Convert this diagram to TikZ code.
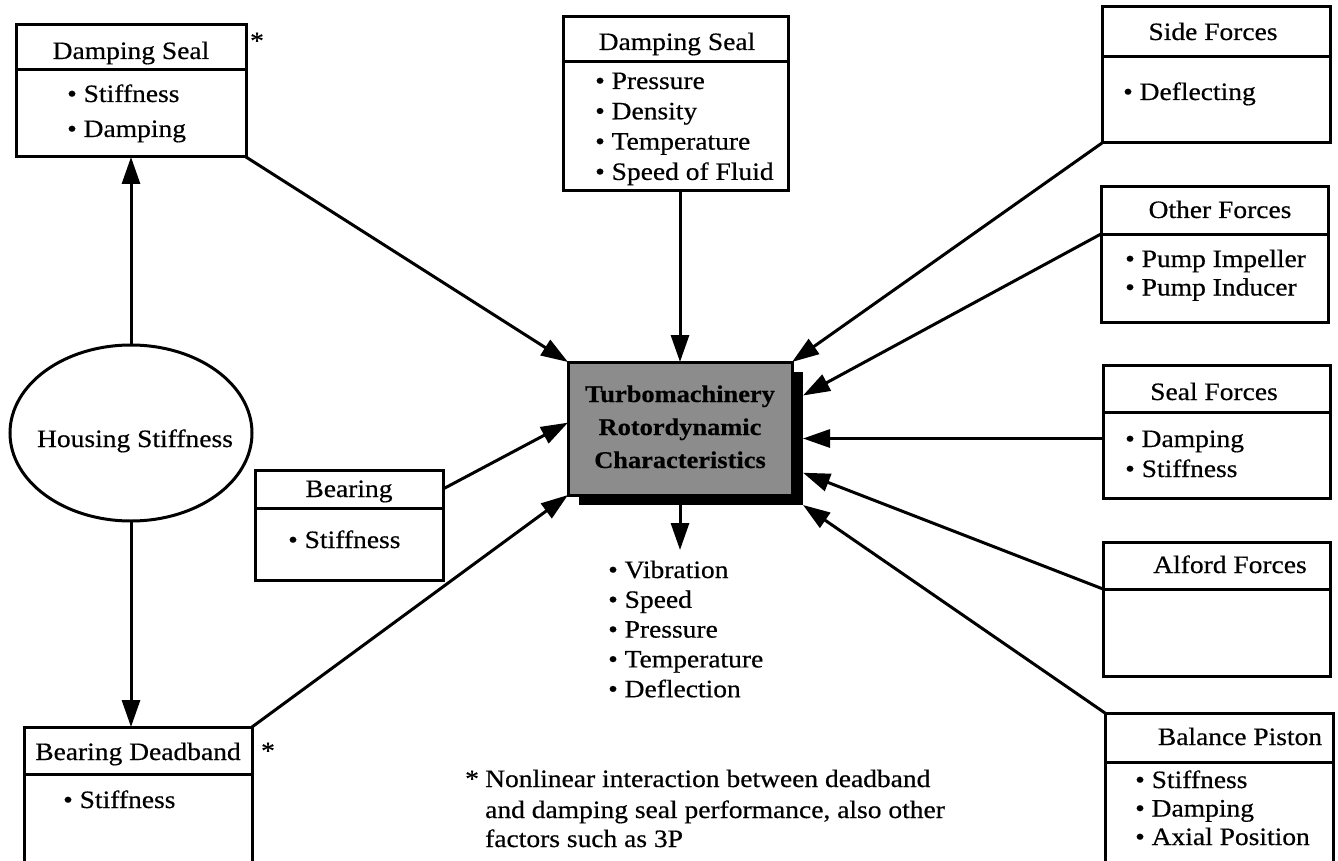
\documentclass[tikz,border=0pt]{standalone}
\usepackage{fontspec}
\setmainfont{Liberation Serif}[FakeStretch=1.1,FakeBold=0.5]
\usetikzlibrary{arrows.meta,shapes.geometric}

\tikzset{
  frame/.style={draw, line width=3pt, rectangle, inner sep=0pt, outer sep=0pt},
  title/.style={anchor=base, inner sep=0pt, font=\fontsize{25}{30}\selectfont},
  item/.style={anchor=base west, inner sep=0pt, font=\fontsize{25}{30}\selectfont},
  coretext/.style={anchor=base, inner sep=0pt, font=\fontsize{24}{33}\selectfont\bfseries},
  link/.style={line width=3pt, -{Triangle[length=27pt,width=18pt]}},
}

% outer frame #1 from (#2,#3) to (#4,#5), header band down to #6
\newcommand\panel[6]{%
  \node[frame, minimum width={#4-#2}, minimum height={#5-#3}] (#1) at ({(#2+#4)/2},{(#3+#5)/2}) {};
  \node[frame, minimum width={#4-#2}, minimum height={#6-#3}, anchor=north] (#1h) at (#1.north) {};
}
% bullet list #1: left edge #2, first baseline #3, line step #4, entries #5
\newcommand\bullets[5]{%
  \foreach \t [count=\i from 1] in {#5}
    \node[item] (#1\i) at (#2,{#3+#4*(\i-1)}) {• \t};
}

\begin{document}
\begin{tikzpicture}[x=1pt,y=-1pt]
  \useasboundingbox (0,0) rectangle (1338,861);
  \fill[white] (0,0) rectangle (1338,861);
  \clip (0,0) rectangle (1338,861);

  % left column
  \panel{ds1}{16}{25}{246}{157}{70}
  \node[title] (ds1t) at (131,59) {Damping Seal};
  \bullets{ds1i}{67}{102}{35}{Stiffness,Damping}
  \node[title] (star1) at (257,49) {*};

  \node[draw, ellipse, line width=3pt, minimum width=242, minimum height=176, inner sep=0pt, outer sep=0pt] (hs) at (131,433) {};
  \node[title] (hst) at (135,447) {Housing Stiffness};

  \panel{bd}{24}{727}{252}{880}{774}
  \node[title] (bdt) at (138,760) {Bearing Deadband};
  \bullets{bdi}{63}{808}{30}{Stiffness}
  \node[title] (star2) at (268,759) {*};

  \panel{br}{255}{470}{443}{580}{508}
  \node[title] (brt) at (349,497) {Bearing};
  \bullets{bri}{288}{548}{30}{Stiffness}

  % top middle
  \panel{ds2}{563}{17}{788}{191}{62}
  \node[title] (ds2t) at (677,50) {Damping Seal};
  \bullets{ds2i}{595}{89}{30.3}{Pressure,Density,Temperature,Speed of Fluid}

  % right column
  \panel{sf}{1102}{7}{1330}{143}{57}
  \node[title] (sft) at (1213,40) {Side Forces};
  \bullets{sfi}{1123}{100}{30}{Deflecting}

  \panel{of}{1101}{187}{1328}{322}{234}
  \node[title] (oft) at (1220,218) {Other Forces};
  \bullets{ofi}{1125}{267}{28.5}{Pump Impeller,Pump Inducer}

  \panel{sl}{1103}{365}{1330}{498}{412}
  \node[title] (slt) at (1214,400) {Seal Forces};
  \bullets{sli}{1125}{447}{30}{Damping,Stiffness}

  \panel{al}{1103}{542}{1330}{676}{589}
  \node[title] (alt) at (1230,573) {Alford Forces};

  \panel{bp}{1105}{713}{1333}{880}{762}
  \node[title] (bpt) at (1240,745) {Balance Piston};
  \bullets{bpi}{1135}{788}{28.5}{Stiffness,Damping,Axial Position}

  % central block with drop shadow
  \node[fill=black, minimum width=224, minimum height=133, inner sep=0pt, outer sep=0pt] (coreshade) at (691,438.5) {};
  \node[frame, fill=black!45, minimum width=224, minimum height=133] (core) at (680,428.5) {};
  \node[coretext] (core1) at (680,402) {Turbomachinery};
  \node[coretext] (core2) at (680,435) {Rotordynamic};
  \node[coretext] (core3) at (680,468) {Characteristics};

  % outputs
  \coordinate (outtip) at (680,550);
  \bullets{outi}{608}{578}{29.8}{Vibration,Speed,Pressure,Temperature,Deflection}

  % footnote
  \node[item] (fnstar) at (465,787) {*};
  \node[item] (fn1) at (485,787) {Nonlinear interaction between deadband};
  \node[item] (fn2) at (485,818) {and damping seal performance, also other};
  \node[item] (fn3) at (485,847) {factors such as 3P};

  % connectors
  \draw[link] (ds1.south east) -- (core.north west);
  \draw[link] (ds2.south -| core.north) -- (core.north);
  \draw[link] (sf.south west) -- (core.north east);
  \draw[link] (ofh.south west) -- (coreshade.21);
  \draw[link] (sl.west |- coreshade.east) -- (coreshade.east);
  \draw[link] (alh.south west) -- (coreshade.-17);
  \draw[link] (bp.north west) -- (coreshade.south east);
  \draw[link] (brh.east) -- (core.177);
  \draw[link] (bd.north east) -- (core.south west);
  \draw[link] (hs.north) -- (hs.north |- ds1.south);
  \draw[link] (hs.south) -- (hs.south |- bd.north);
  \draw[link] (core.south |- coreshade.south) -- (outtip);
\end{tikzpicture}
\end{document}
